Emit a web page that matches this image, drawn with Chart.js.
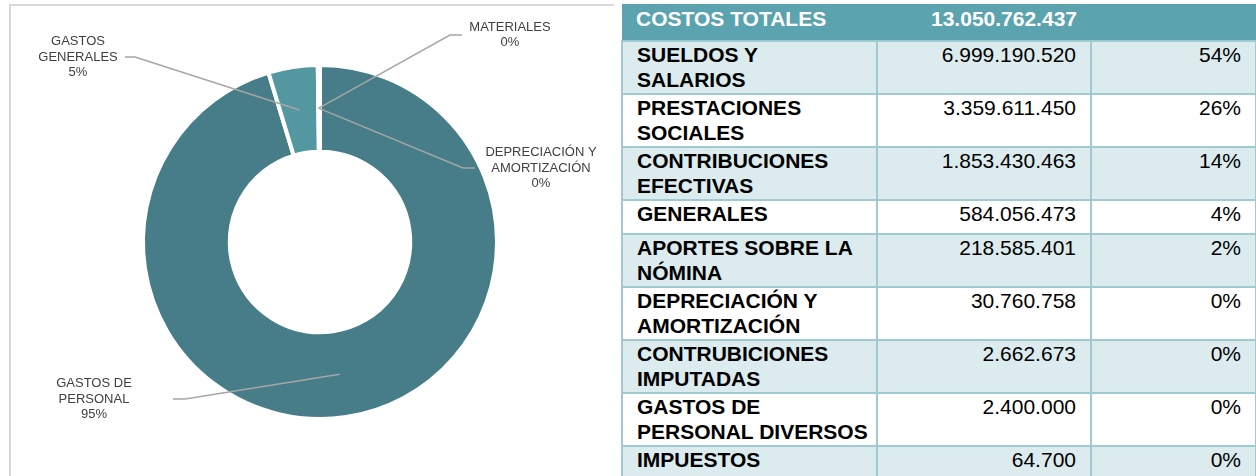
<!DOCTYPE html>
<html>
<head>
<meta charset="utf-8">
<script src="https://cdn.jsdelivr.net/npm/chart.js@4.4.0/dist/chart.umd.min.js"></script>
<style>
    body {
        margin: 0;
        background: #ffffff;
        font-family: "Liberation Sans", Arial, sans-serif;
    }

    #page {
        position: relative;
        width: 1256px;
        height: 476px;
        overflow: hidden;
    }

    #chartBox {
        position: absolute;
        left: 9px;
        top: 4px;
        width: 603px;
        height: 500px;
        border-top: 2px solid #d9d9d9;
        border-left: 2px solid #d9d9d9;
    }

    #costChart {
        position: absolute;
        left: 0;
        top: 0;
    }

    #costTable {
        position: absolute;
        left: 621px;
        top: 4px;
        width: 634px;
        border-collapse: collapse;
        table-layout: fixed;
        font-size: 21px;
        line-height: 25px;
        color: #000000;
    }

    #costTable td {
        border: 2px solid #9fcad0;
        padding: 0 14px;
        vertical-align: top;
        white-space: nowrap;
    }

    #costTable tr.head td {
        border: none;
        background: #5ba3ae;
        color: #ffffff;
        font-weight: bold;
        padding-top: 2px;
    }

    #costTable td.name {
        font-weight: bold;
    }

    #costTable td.num {
        text-align: right;
    }

    #costTable tr.shade td {
        background: #dbebee;
    }
</style>
</head>
<body>
<div id="page">
    <div id="chartBox"></div>
    <canvas id="costChart" width="620" height="476"></canvas>
    <table id="costTable">
        <colgroup>
            <col style="width:255px">
            <col style="width:214px">
            <col style="width:165px">
        </colgroup>
        <tbody id="tableBody"></tbody>
    </table>
</div>

<script>
// DOUGHNUT DATA
const donutLabels = [
    ["GASTOS DE", "PERSONAL"],
    ["GASTOS", "GENERALES"],
    ["MATERIALES"],
    ["DEPRECIACIÓN Y", "AMORTIZACIÓN"]
];
const donutValues = [95.3, 4.5, 0, 0.2];
const donutPct = ["95%", "5%", "0%", "0%"];
const donutColors = ["#467d88", "#5397a1", "#6aaab4", "#3a6a74"];

// TABLE DATA
const totalLabel = "COSTOS TOTALES";
const totalValue = 13050762437;
const costItems = [
    ["SUELDOS Y", "SALARIOS"],
    ["PRESTACIONES", "SOCIALES"],
    ["CONTRIBUCIONES", "EFECTIVAS"],
    ["GENERALES"],
    ["APORTES SOBRE LA", "NÓMINA"],
    ["DEPRECIACIÓN Y", "AMORTIZACIÓN"],
    ["CONTRUBICIONES", "IMPUTADAS"],
    ["GASTOS DE", "PERSONAL DIVERSOS"],
    ["IMPUESTOS"]
];
const costValues = [
    6999190520, 3359611450, 1853430463, 584056473,
    218585401, 30760758, 2662673, 2400000, 64700
];

function formatNumber(n) {
    return String(n).replace(/\B(?=(\d{3})+(?!\d))/g, ".");
}

// BUILD TABLE
const tbody = document.getElementById("tableBody");

const head = document.createElement("tr");
head.className = "head";
head.style.height = "37px";
head.innerHTML =
    "<td>" + totalLabel + "</td>" +
    "<td class='num'>" + formatNumber(totalValue) + "</td>" +
    "<td></td>";
tbody.appendChild(head);

costItems.forEach((item, i) => {
    const tr = document.createElement("tr");
    if (i % 2 === 0) tr.className = "shade";
    tr.style.height = item.length > 1 ? "53px" : "34px";

    const pct = Math.round(costValues[i] / totalValue * 100) + "%";

    tr.innerHTML =
        "<td class='name'>" + item.join("<br>") + "</td>" +
        "<td class='num'>" + formatNumber(costValues[i]) + "</td>" +
        "<td class='num'>" + pct + "</td>";
    tbody.appendChild(tr);
});

// label placement, relative to the doughnut centre
// tx/ty = text block centre, lx = where the leader line starts
const labelLayout = [
    { tx: -226, ty: 157, lx: -147, elbow: 12 },
    { tx: -242, ty: -185, lx: -195, elbow: 10 },
    { tx: 190, ty: -207, lx: 142, elbow: -12 },
    { tx: 221, ty: -74, lx: 155, elbow: -12 }
];

const leaderLabels = {
    id: "leaderLabels",
    afterDatasetsDraw(chart) {
        const ctx = chart.ctx;
        const arcs = chart.getDatasetMeta(0).data;

        ctx.save();
        ctx.font = '13px "Liberation Sans", Arial, sans-serif';
        ctx.textAlign = "center";
        ctx.textBaseline = "middle";

        arcs.forEach((arc, i) => {
            const p = arc.getProps(
                ["x", "y", "startAngle", "endAngle", "innerRadius", "outerRadius"]
            );
            const mid = (p.startAngle + p.endAngle) / 2;
            const r = (p.innerRadius + p.outerRadius) / 2;
            const ax = p.x + Math.cos(mid) * r;
            const ay = p.y + Math.sin(mid) * r;

            const lay = labelLayout[i];
            const lineY = p.y + lay.ty;
            const sx = p.x + lay.lx;

            // leader line
            ctx.strokeStyle = "#a6a6a6";
            ctx.lineWidth = 1.5;
            ctx.beginPath();
            ctx.moveTo(sx, lineY);
            ctx.lineTo(sx + lay.elbow, lineY);
            ctx.lineTo(ax, ay);
            ctx.stroke();

            // text
            const lines = donutLabels[i].concat([donutPct[i]]);
            const lh = 15.7;
            const y0 = p.y + lay.ty - (lines.length - 1) * lh / 2;
            ctx.fillStyle = "#404040";
            lines.forEach((t, k) => {
                ctx.fillText(t, p.x + lay.tx, y0 + k * lh);
            });
        });

        ctx.restore();
    }
};

const costChart = new Chart(
    document.getElementById("costChart").getContext("2d"),
    {
        type: "doughnut",
        data: {
            labels: donutLabels,
            datasets: [{
                data: donutValues,
                backgroundColor: donutColors,
                borderColor: "#ffffff",
                borderWidth: 4
            }]
        },
        options: {
            responsive: false,
            animation: false,
            cutout: "51%",
            layout: {
                padding: { left: 141, right: 121, top: 63, bottom: 55 }
            },
            plugins: {
                legend: { display: false },
                tooltip: { enabled: false }
            }
        },
        plugins: [leaderLabels]
    }
);
</script>
</body>
</html>
